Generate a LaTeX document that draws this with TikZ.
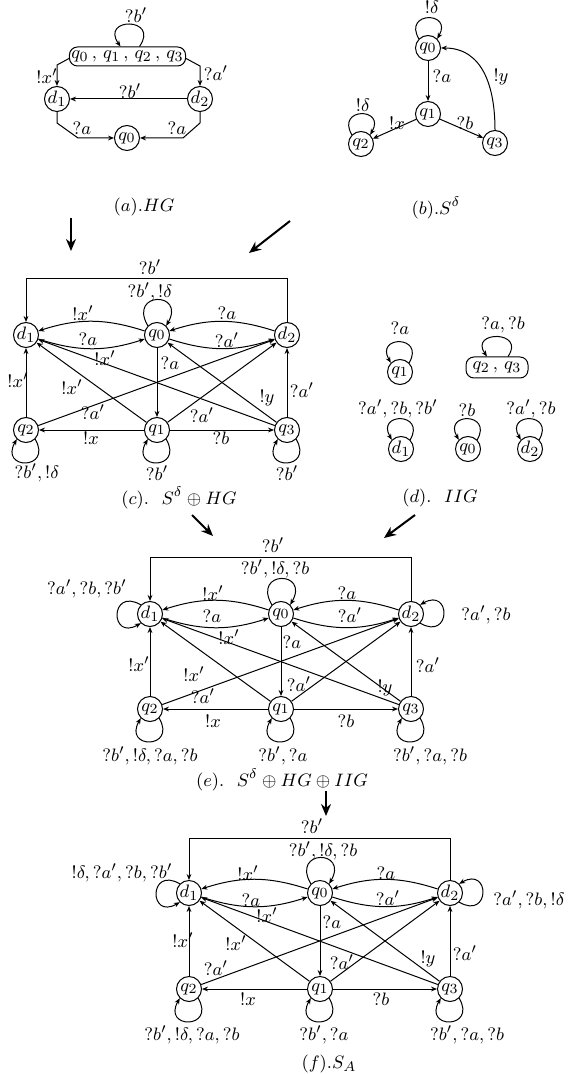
\documentclass[tikz,border=0pt]{standalone}
\usetikzlibrary{arrows.meta}
\begin{document}
\begin{tikzpicture}[x=0.5pt,y=0.5pt,
  every node/.style={font=\fontsize{9.5}{11}\selectfont},
  st/.style={circle, draw, line width=0.5pt, minimum size=12.5pt, inner sep=0pt},
  bx/.style={rectangle, rounded corners=4pt, draw, line width=0.5pt, inner sep=1pt},
  ar/.style={line width=0.5pt, -{Stealth[length=3pt,width=2.4pt]}},
  big/.style={line width=1pt, -{Stealth[length=6pt,width=5pt]}},
  lb/.style={inner sep=0pt},
  capt/.style={inner sep=0pt},
  lpa/.style={min distance=18pt, max distance=18pt},
  lpb/.style={min distance=20pt, max distance=20pt},
  lpc/.style={min distance=16pt, max distance=16pt}]
\useasboundingbox (0,0) rectangle (574,-1074);

% ---------------- (a) HG ----------------
\node[bx, minimum width=55.5pt, minimum height=9.5pt] (ab) at (127.5,-56.5) {$q_0\,,\,q_1\,,\,q_2\,,\,q_3$};
\node[st] (ad1) at (57,-99) {$d_1$};
\node[st] (ad2) at (200,-99) {$d_2$};
\node[st] (aq0) at (127,-138) {$q_0$};
\draw[ar] ([xshift=6pt]ab.north) to[out=55,in=125,lpa] ([xshift=-3.5pt]ab.north) node[lb,at={(136,-15)}] {$?b'$};
\draw[ar] ([yshift=-1pt]ab.west) -- (57,-65) -- (ad1) node[lb,at={(47,-76)}] {$!x'$};
\draw[ar] ([yshift=-1pt]ab.east) -- (200,-66) -- (ad2) node[lb,at={(216,-73)}] {$?a'$};
\draw[ar] (ad2) -- (ad1) node[lb,at={(130,-91)}] {$?b'$};
\draw[ar] (ad1) -- (57,-123) -- (78,-138) -- (aq0) node[lb,at={(82,-128)}] {$?a$};
\draw[ar] (ad2) -- (200,-123) -- (183,-138) -- (aq0) node[lb,at={(177,-128)}] {$?a$};
\node[capt] (acap) at (144,-207) {$(a).HG$};

% ---------------- (b) S^delta ----------------
\node[st] (bq0) at (428,-48) {$q_0$};
\node[st] (bq1) at (428,-114) {$q_1$};
\node[st] (bq2) at (361,-144) {$q_2$};
\node[st] (bq3) at (495,-143) {$q_3$};
\draw[ar] (bq0.135) to[out=120,in=60,lpc] (bq0.45) node[lb,at={(432,-7)}] {$!\delta$};
\draw[ar] (bq2.135) to[out=120,in=60,lpc] (bq2.45) node[lb,at={(363,-105)}] {$!\delta$};
\draw[ar] (bq0) -- (bq1) node[lb,at={(442,-76)}] {$?a$};
\draw[ar] (bq1) -- (bq2) node[lb,at={(397,-123)}] {$!x$};
\draw[ar] (bq1) -- (bq3) node[lb,at={(465,-123)}] {$?b$};
\draw[ar] (bq3.north) to[out=90,in=0,looseness=1.1] (bq0.east) node[lb,at={(501,-77)}] {$!y$};
\node[capt] (bcap) at (436,-208) {$(b).S^{\delta}$};

% ---------------- big arrows (a),(b) -> (c) ----------------
\coordinate (g1s) at (71,-218); \coordinate (g1e) at (71,-251);
\coordinate (g2s) at (290,-221); \coordinate (g2e) at (249,-253);
\draw[big] (g1s) -- (g1e);
\draw[big] (g2s) -- (g2e);

% ---------------- (c) S^delta + HG ----------------
\node[st] (cd1) at (26,-335) {$d_1$};
\node[st] (cq0) at (157,-335) {$q_0$};
\node[st] (cd2) at (287,-335) {$d_2$};
\node[st] (cq2) at (26,-430) {$q_2$};
\node[st] (cq1) at (157,-430) {$q_1$};
\node[st] (cq3) at (287,-430) {$q_3$};
\draw[ar] (cd2) -- (287,-279) -- (26,-279) -- (cd1) node[lb,at={(150,-267)}] {$?b'$};
\draw[ar] (cq0.135) to[out=120,in=60,lpb] (cq0.45) node[lb,at={(150,-292)}] {$?b',!\delta$};
\draw[ar] (cq0) to[bend right=18] (cd1) node[lb,at={(83,-313)}] {$!x'$};
\draw[ar] (cd1) to[bend right=18] (cq0) node[lb,at={(88,-339)}] {$?a$};
\draw[ar] (cd2) to[bend right=18] (cq0) node[lb,at={(227,-313)}] {$?a$};
\draw[ar] (cq0) to[bend right=18] (cd2) node[lb,at={(227,-340)}] {$?a'$};
\draw[ar] (cq3) -- (cd1) node[lb,at={(105,-358)}] {$!x'$};
\draw[ar] (cq0) -- (cq1) node[lb,at={(170,-363)}] {$?a$};
\draw[ar] (cq2) -- (cd1) node[lb,at={(18,-380)}] {$!x'$};
\draw[ar] (cq1) -- (cd1) node[lb,at={(72,-387)}] {$!x'$};
\draw[ar] (cq3) -- (cq0) node[lb,at={(267,-398)}] {$!y$};
\draw[ar] (cq3) -- (cd2) node[lb,at={(302,-390)}] {$?a'$};
\draw[ar] (cq2) -- (cd2) node[lb,at={(93,-412)}] {$?a'$};
\draw[ar] (cq1) -- (cd2) node[lb,at={(202,-415)}] {$?a'$};
\draw[ar] (cq1) -- (cq2) node[lb,at={(91,-438)}] {$!x$};
\draw[ar] (cq1) -- (cq3) node[lb,at={(221,-438)}] {$?b$};
\draw[ar] (cq2.315) to[out=300,in=240,lpa] (cq2.225) node[lb,at={(37,-473)}] {$?b',!\delta$};
\draw[ar] (cq1.315) to[out=300,in=240,lpa] (cq1.225) node[lb,at={(157,-473)}] {$?b'$};
\draw[ar] (cq3.315) to[out=300,in=240,lpa] (cq3.225) node[lb,at={(287,-473)}] {$?b'$};
\node[capt] (ccap) at (179,-498) {$(c).\ \ S^{\delta}\oplus HG$};

% ---------------- (d) IIG ----------------
\node[st] (dq1) at (400,-372) {$q_1$};
\draw[ar] (dq1.45) to[out=60,in=120,lpc] (dq1.135) node[lb,at={(400,-328)}] {$?a$};
\node[bx, minimum width=31pt, minimum height=10.5pt] (dq23) at (497,-367.5) {$q_2\,,\,q_3$};
\draw[ar] ([xshift=5.5pt]dq23.north) to[out=55,in=125,lpc] ([xshift=-5pt]dq23.north) node[lb,at={(503,-325)}] {$?a,?b$};
\node[st] (dd1) at (401,-449) {$d_1$};
\node[st] (dq0) at (468,-449) {$q_0$};
\node[st] (dd2) at (530,-449) {$d_2$};
\draw[ar] (dd1.45) to[out=60,in=120,lpc] (dd1.135) node[lb,at={(398,-409)}] {$?a',?b,?b'$};
\draw[ar] (dq0.45) to[out=60,in=120,lpc] (dq0.135) node[lb,at={(467,-410)}] {$?b$};
\draw[ar] (dd2.45) to[out=60,in=120,lpc] (dd2.135) node[lb,at={(531,-409)}] {$?a',?b$};
\node[capt] (dcap) at (440,-498) {$(d).\ \ IIG$};

% ---------------- big arrows (c),(d) -> (e) ----------------
\coordinate (g3s) at (192,-515); \coordinate (g3e) at (213,-536);
\coordinate (g4s) at (415,-515); \coordinate (g4e) at (384,-538);
\draw[big] (g3s) -- (g3e);
\draw[big] (g4s) -- (g4e);

% ---------------- (e) S^delta + HG + IIG ----------------
\node[st] (ed1) at (150,-614) {$d_1$};
\node[st] (eq0) at (281,-614) {$q_0$};
\node[st] (ed2) at (411,-614) {$d_2$};
\node[st] (eq2) at (150,-709) {$q_2$};
\node[st] (eq1) at (281,-709) {$q_1$};
\node[st] (eq3) at (411,-709) {$q_3$};
\draw[ar] (ed2) -- (411,-557) -- (150,-557) -- (ed1) node[lb,at={(273,-545)}] {$?b'$};
\draw[ar] (eq0.135) to[out=120,in=60,lpb] (eq0.45) node[lb,at={(275,-569)}] {$?b',!\delta,?b$};
\draw[ar] (ed1.135) to[out=150,in=210,lpa] (ed1.225) node[lb,at={(87,-589)}] {$?a',?b,?b'$};
\draw[ar] (ed2.315) to[out=330,in=30,lpa] (ed2.45) node[lb,at={(486,-615)}] {$?a',?b$};
\draw[ar] (eq0) to[bend right=18] (ed1) node[lb,at={(213,-593)}] {$!x'$};
\draw[ar] (ed1) to[bend right=18] (eq0) node[lb,at={(212,-616)}] {$?a$};
\draw[ar] (ed2) to[bend right=18] (eq0) node[lb,at={(347,-593)}] {$?a$};
\draw[ar] (eq0) to[bend right=18] (ed2) node[lb,at={(350,-615)}] {$?a'$};
\draw[ar] (eq3) -- (ed1) node[lb,at={(229,-637)}] {$!x'$};
\draw[ar] (eq0) -- (eq1) node[lb,at={(292,-642)}] {$?a$};
\draw[ar] (eq2) -- (ed1) node[lb,at={(139,-664)}] {$!x'$};
\draw[ar] (eq1) -- (ed1) node[lb,at={(194,-674)}] {$!x'$};
\draw[ar] (eq3) -- (eq0) node[lb,at={(385,-688)}] {$!y$};
\draw[ar] (eq3) -- (ed2) node[lb,at={(428,-665)}] {$?a'$};
\draw[ar] (eq2) -- (ed2) node[lb,at={(203,-696)}] {$?a'$};
\draw[ar] (eq1) -- (ed2) node[lb,at={(299,-684)}] {$?a'$};
\draw[ar] (eq1) -- (eq2) node[lb,at={(213,-721)}] {$!x$};
\draw[ar] (eq1) -- (eq3) node[lb,at={(346,-721)}] {$?b$};
\draw[ar] (eq2.315) to[out=300,in=240,lpa] (eq2.225) node[lb,at={(150,-756)}] {$?b',!\delta,?a,?b$};
\draw[ar] (eq1.315) to[out=300,in=240,lpa] (eq1.225) node[lb,at={(283,-756)}] {$?b',?a$};
\draw[ar] (eq3.315) to[out=300,in=240,lpa] (eq3.225) node[lb,at={(430,-756)}] {$?b',?a,?b$};
\node[capt] (ecap) at (282,-780) {$(e).\ \ S^{\delta}\oplus HG\oplus IIG$};

% ---------------- big arrow (e) -> (f) ----------------
\coordinate (g5s) at (326,-791); \coordinate (g5e) at (326,-816);
\draw[big] (g5s) -- (g5e);

% ---------------- (f) S_A ----------------
\node[st] (fd1) at (189,-893) {$d_1$};
\node[st] (fq0) at (320,-893) {$q_0$};
\node[st] (fd2) at (450,-893) {$d_2$};
\node[st] (fq2) at (189,-989) {$q_2$};
\node[st] (fq1) at (320,-989) {$q_1$};
\node[st] (fq3) at (450,-989) {$q_3$};
\draw[ar] (fd2) -- (450,-838) -- (189,-838) -- (fd1) node[lb,at={(312,-826)}] {$?b'$};
\draw[ar] (fq0.135) to[out=120,in=60,lpb] (fq0.45) node[lb,at={(323,-851)}] {$?b',!\delta,?b$};
\draw[ar] (fd1.135) to[out=150,in=210,lpa] (fd1.225) node[lb,at={(122,-873)}] {$!\delta,?a',?b,?b'$};
\draw[ar] (fd2.315) to[out=330,in=30,lpa] (fd2.45) node[lb,at={(529,-900)}] {$?a',?b,!\delta$};
\draw[ar] (fq0) to[bend right=18] (fd1) node[lb,at={(248,-873)}] {$!x'$};
\draw[ar] (fd1) to[bend right=18] (fq0) node[lb,at={(251,-900)}] {$?a$};
\draw[ar] (fd2) to[bend right=18] (fq0) node[lb,at={(386,-873)}] {$?a$};
\draw[ar] (fq0) to[bend right=18] (fd2) node[lb,at={(388,-898)}] {$?a'$};
\draw[ar] (fq3) -- (fd1) node[lb,at={(267,-915)}] {$!x'$};
\draw[ar] (fq0) -- (fq1) node[lb,at={(332,-922)}] {$?a$};
\draw[ar] (fq2) -- (fd1) node[lb,at={(183,-940)}] {$!x'$};
\draw[ar] (fq1) -- (fd1) node[lb,at={(236,-943)}] {$!x'$};
\draw[ar] (fq3) -- (fq0) node[lb,at={(428,-959)}] {$!y$};
\draw[ar] (fq3) -- (fd2) node[lb,at={(465,-953)}] {$?a'$};
\draw[ar] (fq2) -- (fd2) node[lb,at={(216,-968)}] {$?a'$};
\draw[ar] (fq1) -- (fd2) node[lb,at={(342,-962)}] {$?a'$};
\draw[ar] (fq1) -- (fq2) node[lb,at={(248,-999)}] {$!x$};
\draw[ar] (fq1) -- (fq3) node[lb,at={(381,-999)}] {$?b$};
\draw[ar] (fq2.315) to[out=300,in=240,lpa] (fq2.225) node[lb,at={(192,-1035)}] {$?b',!\delta,?a,?b$};
\draw[ar] (fq1.315) to[out=300,in=240,lpa] (fq1.225) node[lb,at={(324,-1035)}] {$?b',?a$};
\draw[ar] (fq3.315) to[out=300,in=240,lpa] (fq3.225) node[lb,at={(467,-1035)}] {$?b',?a,?b$};
\node[capt] (fcap) at (329,-1064) {$(f).S_A$};
\end{tikzpicture}
\end{document}
